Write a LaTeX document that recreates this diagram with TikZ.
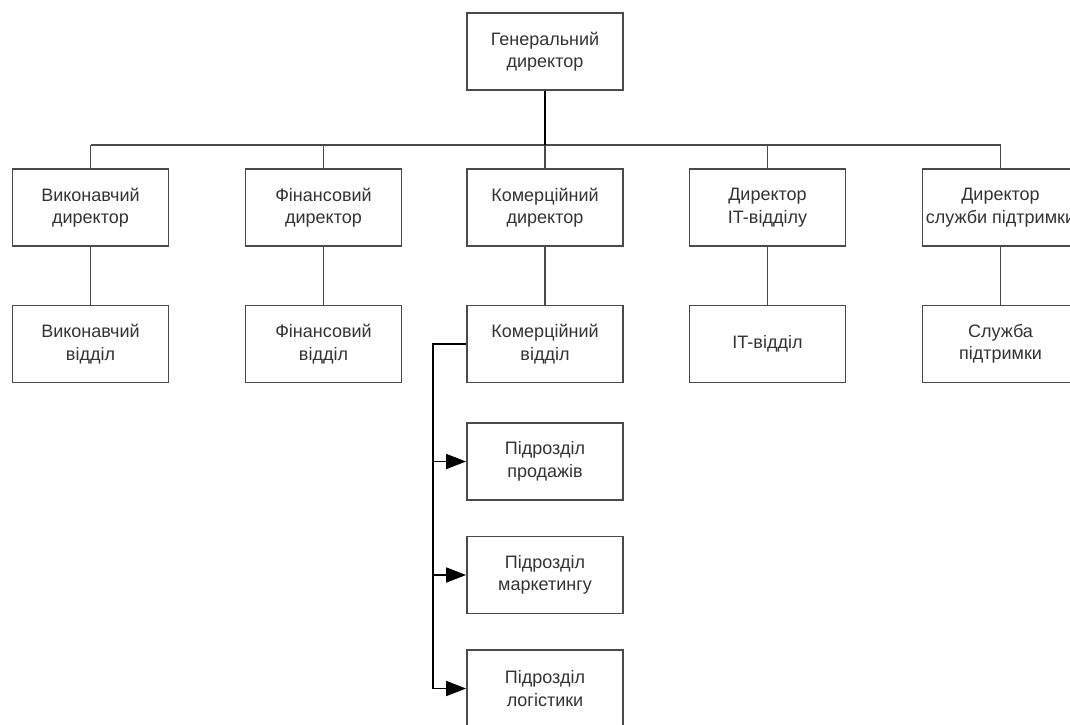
\documentclass[tikz,border=0pt]{standalone}
\usepackage{fontspec}
\setmainfont{Liberation Sans}
\usetikzlibrary{arrows.meta}
\definecolor{boxline}{HTML}{4A4A4A}
\definecolor{txt}{HTML}{333333}
\tikzset{
  unit/.style={draw=boxline, line width=1.9pt, fill=white, minimum width=156pt,
    minimum height=77pt, inner sep=0pt, align=center, text=txt,
    font=\fontsize{18}{22.5}\selectfont},
  link/.style={draw=boxline, line width=1.9pt},
  mainlink/.style={draw=black, line width=2.8pt},
  sublink/.style={draw=black, line width=2.2pt},
  feed/.style={draw=black, line width=1.8pt, -{Triangle[length=20pt,width=15pt]}}
}
\begin{document}
\begin{tikzpicture}[x=1pt,y=-1pt]
\useasboundingbox (0,0) rectangle (1070,724);
\clip (0,0) rectangle (1070,724);
\fill[white] (0,0) rectangle (1070,724);

% top level
\node[unit] (gd) at (545,51.5) {Генеральний\\директор};

% directors
\node[unit] (d1) at (90.5,207.5) {Виконавчий\\директор};
\node[unit] (d2) at (323.5,207.5) {Фінансовий\\директор};
\node[unit] (d3) at (545,207.5) {Комерційний\\директор};
\node[unit] (d4) at (767.5,207.5) {Директор\\IT-відділу};
\node[unit] (d5) at (1000.5,207.5) {Директор\\служби підтримки};

% departments
\node[unit] (p1) at (90.5,344) {Виконавчий\\відділ};
\node[unit] (p2) at (323.5,344) {Фінансовий\\відділ};
\node[unit] (p3) at (545,344) {Комерційний\\відділ};
\node[unit] (p4) at (767.5,344) {IT-відділ};
\node[unit] (p5) at (1000.5,344) {Служба\\підтримки};

% commercial sub-units
\node[unit] (s1) at (545,461.5) {Підрозділ\\продажів};
\node[unit] (s2) at (545,575) {Підрозділ\\маркетингу};
\node[unit] (s3) at (545,688.5) {Підрозділ\\логістики};

% bus under the general director
\coordinate (bus) at (545,145);
\coordinate (spine) at (433,344);

\draw[link] (bus -| d1) -- (bus -| d5);
\foreach \d in {d1,d2,d3,d4,d5} \draw[link] (bus -| \d) -- (\d.north);
\draw[mainlink] (gd.south) -- (bus);

% director to department
\foreach \d/\p in {d1/p1,d2/p2,d3/p3,d4/p4,d5/p5} \draw[link] (\d.south) -- (\p.north);

% commercial department to its sub-units
\draw[sublink] (p3.west) -- (spine) -- (spine |- s3.west);
\foreach \s in {s1,s2,s3} \draw[feed] (spine |- \s.west) -- (\s.west);
\end{tikzpicture}
\end{document}
